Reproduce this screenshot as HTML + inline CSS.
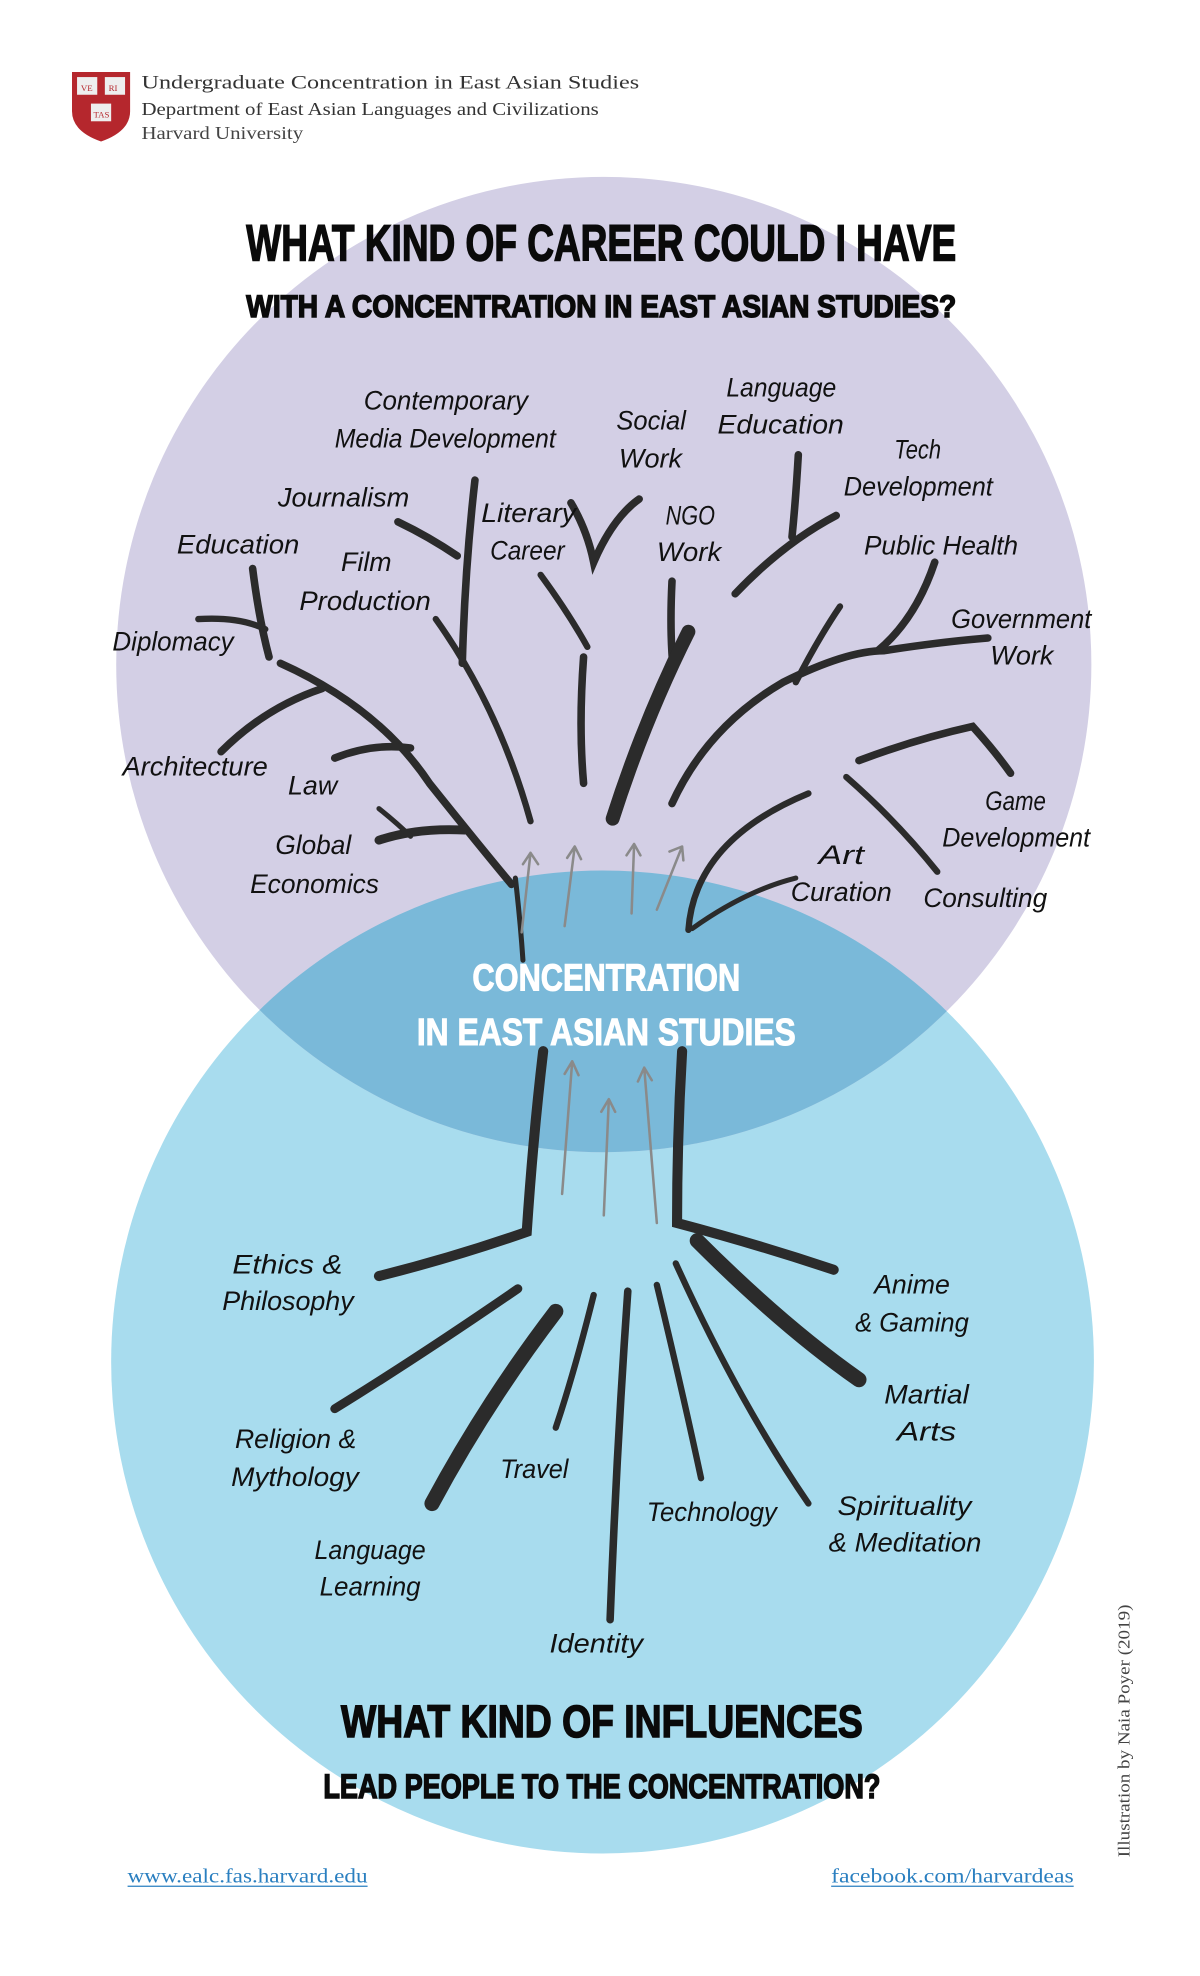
<!DOCTYPE html>
<html><head><meta charset="utf-8">
<style>
html,body{margin:0;padding:0;background:#fff;}
svg{display:block;}
.lb{font-family:"Liberation Sans Narrow","Liberation Sans",sans-serif;font-style:italic;font-size:21px;fill:#111;}
.tt{font-family:"Liberation Sans Narrow","Liberation Sans",sans-serif;font-weight:bold;fill:#0a0a0a;stroke:#0a0a0a;stroke-width:1.2;}
.tw{font-family:"Liberation Sans Narrow","Liberation Sans",sans-serif;font-weight:bold;fill:#fff;stroke:#fff;stroke-width:0.8;}
.br{fill:none;stroke:#2b2b2b;stroke-linecap:round;}
.ar{fill:none;stroke:#8a8a8a;stroke-width:2;stroke-linecap:round;stroke-linejoin:round;}
</style></head>
<body>
<svg width="1200" height="1976" viewBox="0 0 950 1564" preserveAspectRatio="none" xmlns="http://www.w3.org/2000/svg">
<rect width="950" height="1564" fill="#fff"/>
<!-- header -->
<path d="M57 57 H103 V88 Q103 104 80 112 Q57 104 57 88 Z" fill="#b5272d"/>
<rect x="61" y="61" width="16" height="14" fill="#eee"/><rect x="83" y="61" width="16" height="14" fill="#eee"/>
<rect x="72" y="82" width="16" height="14" fill="#eee"/>
<text x="64" y="72" font-size="7" font-family="Liberation Serif" fill="#b5272d">VE</text>
<text x="86" y="72" font-size="7" font-family="Liberation Serif" fill="#b5272d">RI</text>
<text x="74" y="93" font-size="7" font-family="Liberation Serif" fill="#b5272d">TAS</text>
<text x="112" y="70" font-family="Liberation Serif" font-size="15" fill="#333" textLength="394" lengthAdjust="spacingAndGlyphs">Undergraduate Concentration in East Asian Studies</text>
<text x="112" y="91" font-family="Liberation Serif" font-size="14" fill="#333" textLength="362" lengthAdjust="spacingAndGlyphs">Department of East Asian Languages and Civilizations</text>
<text x="112" y="110" font-family="Liberation Serif" font-size="14" fill="#444" textLength="128" lengthAdjust="spacingAndGlyphs">Harvard University</text>

<!-- circles -->
<circle cx="477" cy="1078" r="389" fill="#a8dcee"/>
<circle cx="478" cy="526" r="386" fill="#d3cfe5"/>
<clipPath id="cp"><circle cx="477" cy="1078" r="389"/></clipPath>
<circle cx="478" cy="526" r="386" fill="#7ab9d9" clip-path="url(#cp)"/>

<!-- titles -->
<text class="tt" x="195" y="206" font-size="40" textLength="562" lengthAdjust="spacingAndGlyphs">WHAT KIND OF CAREER COULD I HAVE</text>
<text class="tt" x="195" y="251" font-size="25" textLength="562" lengthAdjust="spacingAndGlyphs">WITH A CONCENTRATION IN EAST ASIAN STUDIES?</text>
<text class="tt" x="270" y="1375" font-size="36" textLength="413" lengthAdjust="spacingAndGlyphs">WHAT KIND OF INFLUENCES</text>
<text class="tt" x="256" y="1423" font-size="27" textLength="441" lengthAdjust="spacingAndGlyphs">LEAD PEOPLE TO THE CONCENTRATION?</text>
<text class="tw" x="374" y="784" font-size="30" textLength="212" lengthAdjust="spacingAndGlyphs">CONCENTRATION</text>
<text class="tw" x="330" y="827" font-size="30" textLength="300" lengthAdjust="spacingAndGlyphs">IN EAST ASIAN STUDIES</text>

<!-- upper branches -->
<g class="br">
<path d="M200 450 Q205 490 213 520" stroke-width="6"/>
<path d="M157 490 Q190 488 210 498" stroke-width="5"/>
<path d="M222 525 Q300 560 340 620 Q380 670 405 700" stroke-width="6"/>
<path d="M175 595 Q210 560 255 545" stroke-width="6"/>
<path d="M265 600 Q295 588 325 592" stroke-width="6"/>
<path d="M300 665 Q330 655 368 657" stroke-width="7"/>
<path d="M300 640 Q315 652 325 662" stroke-width="4"/>
<path d="M315 413 Q340 425 362 440" stroke-width="6"/>
<path d="M376 380 Q368 450 366 525" stroke-width="6"/>
<path d="M345 490 Q395 560 420 650" stroke-width="5"/>
<path d="M428 455 Q450 485 465 512" stroke-width="5"/>
<path d="M462 520 Q458 575 462 620" stroke-width="6"/>
<path d="M452 398 Q465 420 470 445 Q485 410 506 395" stroke-width="6"/>
<path d="M532 460 Q530 500 533 530" stroke-width="6"/>
<path d="M545 500 Q510 570 485 648" stroke-width="11"/>
<path d="M632 360 Q630 395 627 425" stroke-width="6"/>
<path d="M582 470 Q620 430 662 408" stroke-width="6"/>
<path d="M532 636 Q560 575 620 540 Q670 515 700 515 Q745 508 782 505" stroke-width="6"/>
<path d="M740 445 Q725 490 695 515" stroke-width="6"/>
<path d="M630 540 Q648 505 665 480" stroke-width="5"/>
<path d="M680 602 Q725 585 770 575 Q788 595 800 612" stroke-width="6"/>
<path d="M670 615 Q710 650 742 690" stroke-width="5"/>
<path d="M545 736 Q550 665 640 628" stroke-width="5"/>
<path d="M548 735 Q590 705 630 695" stroke-width="4"/>
<path d="M408 695 Q412 730 414 760" stroke-width="4"/>
</g>
<!-- lower trunk and roots -->
<g class="br">
<path d="M430 832 Q422 900 417 975 Q360 995 300 1010" stroke-width="8"/>
<path d="M540 832 Q536 900 536 968 Q600 985 660 1005" stroke-width="8"/>
<path d="M410 1020 Q330 1075 265 1115" stroke-width="7"/>
<path d="M440 1038 Q385 1110 342 1190" stroke-width="12"/>
<path d="M470 1025 Q455 1085 440 1130" stroke-width="5"/>
<path d="M497 1022 Q488 1150 483 1282" stroke-width="6"/>
<path d="M520 1017 Q540 1100 555 1170" stroke-width="5"/>
<path d="M535 1000 Q585 1110 640 1190" stroke-width="5"/>
<path d="M552 982 Q620 1050 680 1092" stroke-width="12"/>
</g>
<!-- arrows -->
<g class="ar">
<path d="M413 738 L420 675 M414 684 L420 675 L426 684"/>
<path d="M447 733 L455 670 M449 679 L455 670 L460 680"/>
<path d="M500 723 L502 668 M496 677 L502 668 L507 677"/>
<path d="M520 720 L540 670 M530 674 L540 670 L541 681"/>
<path d="M445 945 L453 840 M447 850 L453 840 L458 851"/>
<path d="M478 962 L482 870 M476 880 L482 870 L487 880"/>
<path d="M520 968 L510 845 M505 856 L510 845 L516 855"/>
</g>

<!-- labels -->
<g class="lb">
<text x="288" y="324" textLength="130" lengthAdjust="spacingAndGlyphs">Contemporary</text>
<text x="265" y="354" textLength="175" lengthAdjust="spacingAndGlyphs">Media Development</text>
<text x="488" y="340" textLength="55" lengthAdjust="spacingAndGlyphs">Social</text>
<text x="490" y="370" textLength="50" lengthAdjust="spacingAndGlyphs">Work</text>
<text x="575" y="314" textLength="87" lengthAdjust="spacingAndGlyphs">Language</text>
<text x="568" y="343" textLength="100" lengthAdjust="spacingAndGlyphs">Education</text>
<text x="708" y="363" textLength="37" lengthAdjust="spacingAndGlyphs">Tech</text>
<text x="668" y="392" textLength="118" lengthAdjust="spacingAndGlyphs">Development</text>
<text x="220" y="401" textLength="104" lengthAdjust="spacingAndGlyphs">Journalism</text>
<text x="381" y="413" textLength="75" lengthAdjust="spacingAndGlyphs">Literary</text>
<text x="388" y="443" textLength="59" lengthAdjust="spacingAndGlyphs">Career</text>
<text x="527" y="415" textLength="39" lengthAdjust="spacingAndGlyphs">NGO</text>
<text x="520" y="444" textLength="51" lengthAdjust="spacingAndGlyphs">Work</text>
<text x="684" y="439" textLength="122" lengthAdjust="spacingAndGlyphs">Public Health</text>
<text x="140" y="438" textLength="97" lengthAdjust="spacingAndGlyphs">Education</text>
<text x="270" y="452" textLength="40" lengthAdjust="spacingAndGlyphs">Film</text>
<text x="237" y="483" textLength="104" lengthAdjust="spacingAndGlyphs">Production</text>
<text x="89" y="515" textLength="96" lengthAdjust="spacingAndGlyphs">Diplomacy</text>
<text x="753" y="497" textLength="111" lengthAdjust="spacingAndGlyphs">Government</text>
<text x="784" y="526" textLength="50" lengthAdjust="spacingAndGlyphs">Work</text>
<text x="97" y="614" textLength="115" lengthAdjust="spacingAndGlyphs">Architecture</text>
<text x="228" y="629" textLength="39" lengthAdjust="spacingAndGlyphs">Law</text>
<text x="780" y="641" textLength="48" lengthAdjust="spacingAndGlyphs">Game</text>
<text x="746" y="670" textLength="117" lengthAdjust="spacingAndGlyphs">Development</text>
<text x="218" y="676" textLength="60" lengthAdjust="spacingAndGlyphs">Global</text>
<text x="198" y="707" textLength="102" lengthAdjust="spacingAndGlyphs">Economics</text>
<text x="648" y="684" textLength="36" lengthAdjust="spacingAndGlyphs">Art</text>
<text x="626" y="713" textLength="80" lengthAdjust="spacingAndGlyphs">Curation</text>
<text x="731" y="718" textLength="98" lengthAdjust="spacingAndGlyphs">Consulting</text>
<text x="184" y="1008" textLength="87" lengthAdjust="spacingAndGlyphs">Ethics &amp;</text>
<text x="176" y="1037" textLength="104" lengthAdjust="spacingAndGlyphs">Philosophy</text>
<text x="692" y="1024" textLength="60" lengthAdjust="spacingAndGlyphs">Anime</text>
<text x="677" y="1054" textLength="90" lengthAdjust="spacingAndGlyphs">&amp; Gaming</text>
<text x="700" y="1111" textLength="67" lengthAdjust="spacingAndGlyphs">Martial</text>
<text x="710" y="1140" textLength="47" lengthAdjust="spacingAndGlyphs">Arts</text>
<text x="186" y="1146" textLength="96" lengthAdjust="spacingAndGlyphs">Religion &amp;</text>
<text x="183" y="1176" textLength="101" lengthAdjust="spacingAndGlyphs">Mythology</text>
<text x="396" y="1170" textLength="54" lengthAdjust="spacingAndGlyphs">Travel</text>
<text x="512" y="1204" textLength="103" lengthAdjust="spacingAndGlyphs">Technology</text>
<text x="663" y="1199" textLength="106" lengthAdjust="spacingAndGlyphs">Spirituality</text>
<text x="656" y="1228" textLength="121" lengthAdjust="spacingAndGlyphs">&amp; Meditation</text>
<text x="249" y="1234" textLength="88" lengthAdjust="spacingAndGlyphs">Language</text>
<text x="253" y="1263" textLength="80" lengthAdjust="spacingAndGlyphs">Learning</text>
<text x="435" y="1308" textLength="74" lengthAdjust="spacingAndGlyphs">Identity</text>
</g>

<!-- footer -->
<text x="101" y="1490" font-family="Liberation Serif" font-size="16" fill="#2a7fc0" textLength="190" lengthAdjust="spacingAndGlyphs">www.ealc.fas.harvard.edu</text>
<line x1="101" y1="1493" x2="291" y2="1493" stroke="#2a7fc0" stroke-width="1"/>
<text x="658" y="1490" font-family="Liberation Serif" font-size="16" fill="#2a7fc0" textLength="192" lengthAdjust="spacingAndGlyphs">facebook.com/harvardeas</text>
<line x1="658" y1="1493" x2="850" y2="1493" stroke="#2a7fc0" stroke-width="1"/>
<text transform="translate(894 1470) rotate(-90)" font-family="Liberation Serif" font-size="13" fill="#444" textLength="200" lengthAdjust="spacingAndGlyphs">Illustration by Naia Poyer (2019)</text>
</svg>
</body></html>
